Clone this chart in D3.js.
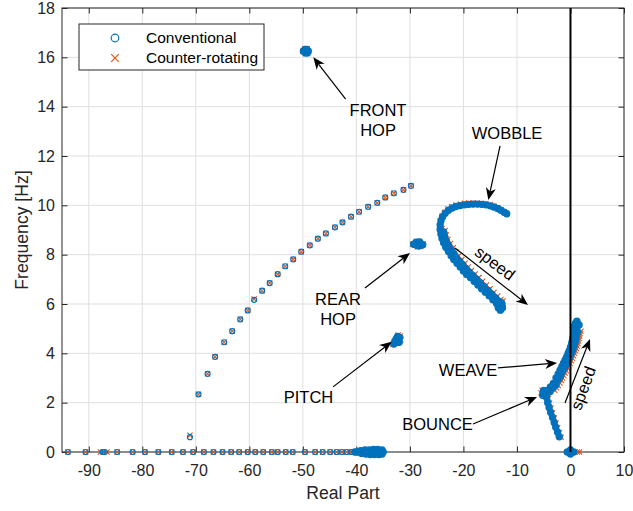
<!DOCTYPE html>
<html>
<head>
<meta charset="utf-8">
<script src="https://cdn.jsdelivr.net/npm/d3@7"></script>
<style>
body { margin: 0; background: #fff; }
text { font-family: "Liberation Sans", Arial, Helvetica, sans-serif; }
</style>
</head>
<body>
<script>
// Data ////////////////////////////////////

var xTicks = [-90, -80, -70, -60, -50, -40, -30, -20, -10, 0, 10];
var yTicks = [0, 2, 4, 6, 8, 10, 12, 14, 16, 18];
var seriesNames = ["Conventional", "Counter-rotating"];

// sparse branch rising from the real axis
var convDiag = [[-71.1,0.6],[-69.5,2.34],[-67.8,3.17],[-66.4,3.86],[-64.7,4.45],[-63.2,4.9],[-61.7,5.38],
	[-60.3,5.74],[-59.1,6.17],[-57.6,6.54],[-56.2,6.85],[-54.7,7.21],[-53.3,7.53],[-51.8,7.81],[-50.3,8.12],
	[-48.7,8.38],[-47.2,8.65],[-45.7,8.86],[-44.0,9.11],[-42.6,9.31],[-41.0,9.54],[-39.5,9.74],[-37.8,9.94],
	[-36.1,10.1],[-34.6,10.32],[-33.0,10.49],[-31.2,10.63],[-29.8,10.79]];
var counterDiag = [[-71.1,0.68],[-69.5,2.34],[-67.8,3.17],[-66.4,3.86],[-64.7,4.45],[-63.2,4.9],[-61.7,5.38],
	[-60.3,5.74],[-59.1,6.2],[-57.6,6.54],[-56.2,6.85],[-54.7,7.21],[-53.3,7.53],[-51.8,7.81],[-50.3,8.12],
	[-48.7,8.38],[-47.2,8.65],[-45.7,8.86],[-44.0,9.11],[-42.6,9.31],[-41.0,9.54],[-39.5,9.74],[-37.8,9.94],
	[-36.1,10.1],[-34.6,10.32],[-33.0,10.49],[-31.2,10.63],[-29.8,10.79]];

// real axis (frequency 0)
var convReal = [[-93.9,0],[-90.6,0],[-87.4,0],[-87.0,0],[-84.7,0],[-81.8,0],[-79.5,0],[-77.0,0],[-74.5,0],
	[-72.4,0],[-70.5,0],[-68.5,0],[-66.7,0],[-65.0,0],[-63.4,0],[-61.9,0],[-60.3,0],[-58.9,0],[-57.4,0],
	[-55.8,0],[-54.7,0],[-53.2,0],[-51.9,0],[-49.6,0],[-47.7,0],[-46.3,0],[-44.9,0],[-43.7,0],[-42.7,0],
	[-41.8,0],[-40.9,0]];
var convRealCluster = [[-40.3,0],[-39.9,0],[-39.5,0],[-39.2,0.05],[-38.8,0],[-38.4,0.08],[-38.0,0],
	[-37.6,0.08],[-37.2,0],[-36.8,0.1],[-36.4,0],[-36.0,0.1],[-35.6,0],[-35.2,0.08],[-35.0,0],
	[-39.0,-0.06],[-38.2,-0.08],[-37.4,-0.1],[-36.6,-0.1],[-35.8,-0.1],[-35.2,-0.08]];
var counterReal = [[-93.9,0],[-90.6,0],[-87.8,0],[-87.3,0],[-86.6,0],[-84.7,0],[-81.8,0],[-79.5,0],[-77.0,0],
	[-74.5,0],[-72.4,0],[-70.5,0],[-68.5,0],[-66.7,0],[-65.0,0],[-63.4,0],[-61.9,0],[-60.3,0],[-58.9,0],
	[-57.4,0],[-55.8,0],[-54.7,0],[-53.2,0],[-51.9,0],[-49.6,0],[-47.7,0],[-46.3,0],[-44.9,0],[-43.7,0],
	[-42.7,0],[-41.8,0],[-40.9,0],[-40.4,0],[-40.0,0],[-39.6,0],[-39.2,0],[-38.8,0],[-38.4,0],[-38.0,0],
	[-37.6,0],[-37.2,0],[-36.8,0],[-36.4,0],[-36.0,0],[-35.6,0],[-35.2,0]];

// clusters
var convFrontHop = [[-49.9,16.25],[-49.6,16.32],[-49.3,16.32],[-49.0,16.25],[-49.5,16.18],[-49.2,16.18],[-49.4,16.26]];
var counterFrontHop = [[-50.0,16.25],[-49.6,16.35],[-49.2,16.35],[-48.9,16.25],[-49.5,16.15],[-49.1,16.15]];
var convRearHop = [[-29.3,8.42],[-28.8,8.47],[-28.4,8.48],[-28.0,8.45],[-27.6,8.4],[-28.6,8.36],[-28.2,8.36],
	[-28.8,8.51],[-28.2,8.52],[-28.5,8.42]];
var counterRearHop = [[-29.5,8.42],[-28.8,8.53],[-28.2,8.54],[-27.5,8.43],[-28.6,8.32],[-28.0,8.33]];
var convPitch = [[-33.0,4.38],[-32.6,4.45],[-32.2,4.55],[-31.9,4.64],[-32.5,4.6],[-32.0,4.45],[-32.8,4.5],[-32.3,4.68]];
var counterPitch = [[-33.2,4.36],[-32.6,4.4],[-31.8,4.7],[-32.2,4.74],[-31.7,4.55]];
var convOrigin = [[-0.6,0],[-0.2,0],[0.2,0],[0.6,0],[0,0.08],[0,-0.08]];
var counterOrigin = [[-0.4,0],[0.2,0],[0.8,0],[1.3,0],[1.7,0]];

// wobble
var convWobble = [[-13.2,5.88],[-13.8,6.02],[-14.5,6.17],[-15.2,6.33],[-15.9,6.48],[-16.6,6.62],[-17.3,6.77],
	[-18.0,6.92],[-18.7,7.07],[-19.4,7.2],[-20.0,7.34],[-20.6,7.5],[-21.2,7.65],[-21.8,7.8],[-22.3,7.96],
	[-22.8,8.13],[-23.3,8.3],[-23.7,8.48],[-24.0,8.66],[-24.2,8.84],[-24.35,9.02],[-24.35,9.2],[-24.2,9.38],
	[-23.9,9.54],[-23.4,9.68],[-22.8,9.8],[-22.1,9.89],[-21.4,9.95],[-20.6,9.99],[-19.8,10.02],[-19.0,10.04],
	[-18.2,10.05],[-17.4,10.05],[-16.6,10.04],[-15.8,10.02],[-15.0,9.98],[-14.3,9.93],[-13.6,9.87],
	[-13.0,9.8],[-12.4,9.72],[-11.9,9.66],
	[-12.8,5.95],[-13.4,6.1],[-14.0,6.25],[-14.7,6.4],[-15.4,6.55],[-16.1,6.7],[-16.8,6.85],[-17.5,7.0],
	[-18.2,7.15],[-18.9,7.29],[-19.5,7.43],[-20.1,7.58],[-20.7,7.73],[-21.3,7.88],[-21.8,8.04],[-22.3,8.21],
	[-22.8,8.38],[-23.2,8.56],[-23.5,8.74],[-23.7,8.92],[-13.0,5.8],[-12.9,6.05],
	[-13.5,5.85],[-13.3,6.02],[-12.7,5.85],[-13.1,5.75]];
var counterWobble = [[-12.6,6.12],[-13.0,6.18],[-13.6,6.32],[-14.3,6.47],[-15.0,6.62],[-15.7,6.77],[-16.4,6.92],
	[-17.1,7.07],[-17.8,7.22],[-18.5,7.36],[-19.1,7.5],[-19.7,7.65],[-20.3,7.8],[-20.9,7.95],[-21.4,8.11],
	[-21.9,8.28],[-22.4,8.45],[-22.9,8.62],[-23.2,8.8],[-23.4,8.98],
	[-24.0,9.05],[-24.3,9.2],[-24.3,9.38],[-24.0,9.56],[-23.5,9.72],[-22.9,9.85],[-22.2,9.94],[-21.4,10.01],
	[-20.6,10.05],[-19.8,10.08],[-19.0,10.1],[-18.2,10.1],[-17.4,10.1],[-16.6,10.08],[-15.8,10.06],
	[-15.0,10.02],[-14.3,9.96],[-13.6,9.9],[-13.0,9.82],[-12.4,9.74],[-11.9,9.67]];

// weave / bounce
var convWeave = [[-2.1,0.62],[-2.4,0.8],[-2.75,1.0],[-3.05,1.2],[-3.35,1.4],[-3.7,1.6],[-4.0,1.8],[-4.25,2.0],
	[-4.45,2.2],[-4.6,2.38],[-5.1,2.38],[-5.0,2.5],[-4.8,2.3],[-5.2,2.3],
	[-4.3,2.5],[-3.75,2.64],[-3.2,2.78],[-2.7,3.0],[-2.3,3.16],[-1.95,3.32],[-1.6,3.47],[-1.3,3.6],[-1.0,3.73],
	[-0.7,3.86],[-0.45,4.0],[-0.25,4.1],[0.0,4.25],[0.22,4.4],[0.35,4.5],[0.45,4.6],[0.55,4.7],[0.65,4.81],
	[0.8,4.92],[0.9,5.0],[1.05,5.08],[1.15,5.15],
	[-3.8,2.45],[-3.25,2.59],[-2.7,2.73],[-2.2,2.95],[-1.8,3.11],[-1.45,3.27],[-1.1,3.42],[-0.8,3.55],
	[-0.5,3.68],[-0.2,3.81],[0.05,3.95],[0.25,4.05],[0.5,4.2],[0.72,4.35],[0.85,4.45],[0.95,4.55],[1.05,4.65],
	[1.15,4.76],[1.3,4.87],
	[1.3,5.2],[0.95,5.22],[1.2,5.05],[0.7,5.1],[1.6,5.15],[1.2,5.3]];
var counterWeave = [[-1.75,0.6],[-2.05,0.78],[-2.4,0.98],[-2.7,1.18],[-3.0,1.38],[-3.35,1.58],[-3.65,1.78],
	[-3.9,1.98],[-4.1,2.18],[-4.3,2.35],[-5.5,2.4],[-5.3,2.5],
	[-2.95,2.5],[-2.6,2.6],[-2.3,2.7],[-1.95,2.8],[-1.7,2.9],[-1.48,3.0],[-1.25,3.1],[-1.0,3.2],[-0.78,3.3],
	[-0.55,3.4],[-0.32,3.5],[-0.08,3.6],[0.15,3.7],[0.38,3.8],[0.57,3.9],[0.75,4.0],[0.93,4.1],[1.1,4.2],
	[1.24,4.3],[1.38,4.4],[1.5,4.5],[1.6,4.6],[1.7,4.7],[1.8,4.8],[1.95,4.9]];

// annotations: text position, arrow tail, arrow tip (data units)
var labels = [
	{lines: ["FRONT", "HOP"], at: [-35.96, 13.86], tail: [-42.0, 14.31], tip: [-48.05, 16.0]},
	{lines: ["WOBBLE"], at: [-11.85, 12.93], tail: [-13.16, 12.41], tip: [-15.35, 10.22]},
	{lines: ["REAR", "HOP"], at: [-43.43, 6.2], tail: [-38.4, 6.65], tip: [-29.98, 8.07]},
	{lines: ["PITCH"], at: [-48.94, 2.21], tail: [-44.36, 2.64], tip: [-33.4, 4.47]},
	{lines: ["WEAVE"], at: [-19.14, 3.32], tail: [-13.53, 3.41], tip: [-2.51, 3.61]},
	{lines: ["BOUNCE"], at: [-24.84, 1.135], tail: [-18.2, 1.135], tip: [-6.25, 2.23]},
	{lines: ["speed"], at: [-14.1, 7.66], rotate: 37, tail: [-21.57, 8.27], tip: [-7.93, 5.96]},
	{lines: ["speed"], at: [2.35, 2.59], rotate: -70, tail: [-1.02, 1.99], tip: [3.65, 4.58]}
];

var blue = "#0072BD";
var orange = "#D95319";
var axisColor = "#262626";

// SVG setup //////////////////////////////////////////////////////

var margin = {top: 8, right: 9, bottom: 59, left: 62};
var width = 633 - margin.left - margin.right;
var height = 511 - margin.top - margin.bottom;

var svgRoot = d3.select("body")
	.append("svg")
		.attr("width", 633)
		.attr("height", 511);

var svg = svgRoot.append("g")
	.attr("transform", "translate(" + margin.left + "," + margin.top + ")");

var xScale = d3.scaleLinear().domain([-95, 10]).range([0, width]);
var yScale = d3.scaleLinear().domain([0, 18]).range([height, 0]);

// grid
svg.append("g").selectAll("line").data(xTicks).enter().append("line")
	.attr("x1", function(d){ return xScale(d); }).attr("x2", function(d){ return xScale(d); })
	.attr("y1", 0).attr("y2", height)
	.attr("stroke", "#dfdfdf").attr("stroke-width", 1);
svg.append("g").selectAll("line").data(yTicks).enter().append("line")
	.attr("y1", function(d){ return yScale(d); }).attr("y2", function(d){ return yScale(d); })
	.attr("x1", 0).attr("x2", width)
	.attr("stroke", "#dfdfdf").attr("stroke-width", 1);

// axes with inward ticks
var fmt = function(d){ return String(d); };
function styleAxis(g) {
	g.select(".domain").remove();
	g.selectAll(".tick line").attr("stroke", axisColor);
	g.selectAll(".tick text").attr("fill", axisColor).style("font-size", "16px")
		.style("font-family", "'Liberation Sans', Arial, sans-serif");
}
svg.append("g").attr("transform", "translate(0," + height + ")")
	.call(d3.axisBottom(xScale).tickValues(xTicks).tickFormat(fmt).tickSize(-5.5).tickPadding(13))
	.call(styleAxis);
svg.append("g")
	.call(d3.axisTop(xScale).tickValues(xTicks).tickFormat("").tickSize(-5.5))
	.call(styleAxis);
svg.append("g")
	.call(d3.axisLeft(yScale).tickValues(yTicks).tickFormat(fmt).tickSize(-5.5).tickPadding(7))
	.call(styleAxis);
svg.append("g").attr("transform", "translate(" + width + ",0)")
	.call(d3.axisRight(yScale).tickValues(yTicks).tickFormat("").tickSize(-5.5))
	.call(styleAxis);

svg.append("rect")
	.attr("x", 0).attr("y", 0).attr("width", width).attr("height", height)
	.attr("fill", "none").attr("stroke", axisColor).attr("stroke-width", 1);

// markers: dense groups overlap so much that they read as solid
var crossSize = 2.6;
function drawCrosses(data) {
	svg.append("g").selectAll("path").data(data).enter().append("path")
		.attr("transform", function(d){ return "translate(" + xScale(d[0]) + "," + yScale(d[1]) + ")"; })
		.attr("d", "M" + (-crossSize) + "," + (-crossSize) + "L" + crossSize + "," + crossSize +
			"M" + (-crossSize) + "," + crossSize + "L" + crossSize + "," + (-crossSize))
		.attr("fill", "none").attr("stroke", orange).attr("stroke-width", 1.1);
}
function drawCircles(data, dense) {
	svg.append("g").selectAll("circle").data(data).enter().append("circle")
		.attr("cx", function(d){ return xScale(d[0]); })
		.attr("cy", function(d){ return yScale(d[1]); })
		.attr("r", dense ? 3.1 : 2.5)
		.attr("fill", dense ? blue : "none").attr("stroke", blue).attr("stroke-width", 1.2);
}

var counterAll = [counterDiag, counterReal, counterFrontHop, counterRearHop, counterPitch, counterOrigin, counterWobble, counterWeave];
counterAll.forEach(function(d){ drawCrosses(d); });
drawCircles(convDiag, false);
drawCircles(convReal, false);
[convRealCluster, convFrontHop, convRearHop, convPitch, convOrigin, convWobble, convWeave]
	.forEach(function(d){ drawCircles(d, true); });

// vertical line at real part = 0
svg.append("line")
	.attr("x1", xScale(0)).attr("x2", xScale(0))
	.attr("y1", 0).attr("y2", height)
	.attr("stroke", "#000").attr("stroke-width", 2);

// annotations
labels.forEach(function(a) {
	var x1 = xScale(a.tail[0]), y1 = yScale(a.tail[1]);
	var x2 = xScale(a.tip[0]), y2 = yScale(a.tip[1]);
	var ang = Math.atan2(y2 - y1, x2 - x1);
	var headL = 12, headW = 5, notch = 3.5;
	var deg = ang * 180 / Math.PI;
	var len = Math.sqrt((x2 - x1) * (x2 - x1) + (y2 - y1) * (y2 - y1));
	var arrow = svg.append("g")
		.attr("transform", "translate(" + x2 + "," + y2 + ") rotate(" + deg + ")");
	arrow.append("line")
		.attr("x1", -len).attr("y1", 0).attr("x2", -headL + notch).attr("y2", 0)
		.attr("stroke", "#000").attr("stroke-width", 1.2);
	arrow.append("path")
		.attr("d", "M0,0L" + (-headL) + "," + (-headW) + "L" + (-headL + notch) + ",0L" + (-headL) + "," + headW + "Z")
		.attr("fill", "#000");

	var tx = xScale(a.at[0]), ty = yScale(a.at[1]);
	var t = svg.append("text")
		.attr("transform", "translate(" + tx + "," + ty + ")" + (a.rotate ? " rotate(" + a.rotate + ")" : ""))
		.attr("text-anchor", "middle")
		.style("font-size", "16.5px")
		.attr("fill", "#000");
	a.lines.forEach(function(s, i) {
		t.append("tspan").attr("x", 0).attr("y", i * 20.5).attr("dy", "0.35em").text(s);
	});
});

// axis labels
svgRoot.append("text")
	.attr("x", margin.left + width / 2).attr("y", 499)
	.attr("text-anchor", "middle").attr("fill", axisColor)
	.style("font-size", "17.6px")
	.text("Real Part");
svgRoot.append("text")
	.attr("transform", "translate(28," + (margin.top + height / 2) + ") rotate(-90)")
	.attr("text-anchor", "middle").attr("fill", axisColor)
	.style("font-size", "17.6px")
	.text("Frequency [Hz]");

// legend
var legend = svgRoot.append("g").attr("transform", "translate(79,24)");
legend.append("rect")
	.attr("width", 185).attr("height", 46)
	.attr("fill", "#fff").attr("stroke", axisColor).attr("stroke-width", 1);
legend.append("circle")
	.attr("cx", 36).attr("cy", 14).attr("r", 3.8)
	.attr("fill", "none").attr("stroke", blue).attr("stroke-width", 1.2);
legend.append("path")
	.attr("transform", "translate(36,34)")
	.attr("d", "M-3.8,-3.8L3.8,3.8M-3.8,3.8L3.8,-3.8")
	.attr("fill", "none").attr("stroke", orange).attr("stroke-width", 1.2);
legend.selectAll("text.lbl").data(seriesNames).enter().append("text")
	.attr("class", "lbl")
	.attr("x", 67).attr("y", function(d, i){ return 14 + i * 20; })
	.attr("dy", "0.35em")
	.attr("fill", "#000")
	.style("font-size", "15.5px")
	.text(function(d){ return d; });
</script>
</body>
</html>
